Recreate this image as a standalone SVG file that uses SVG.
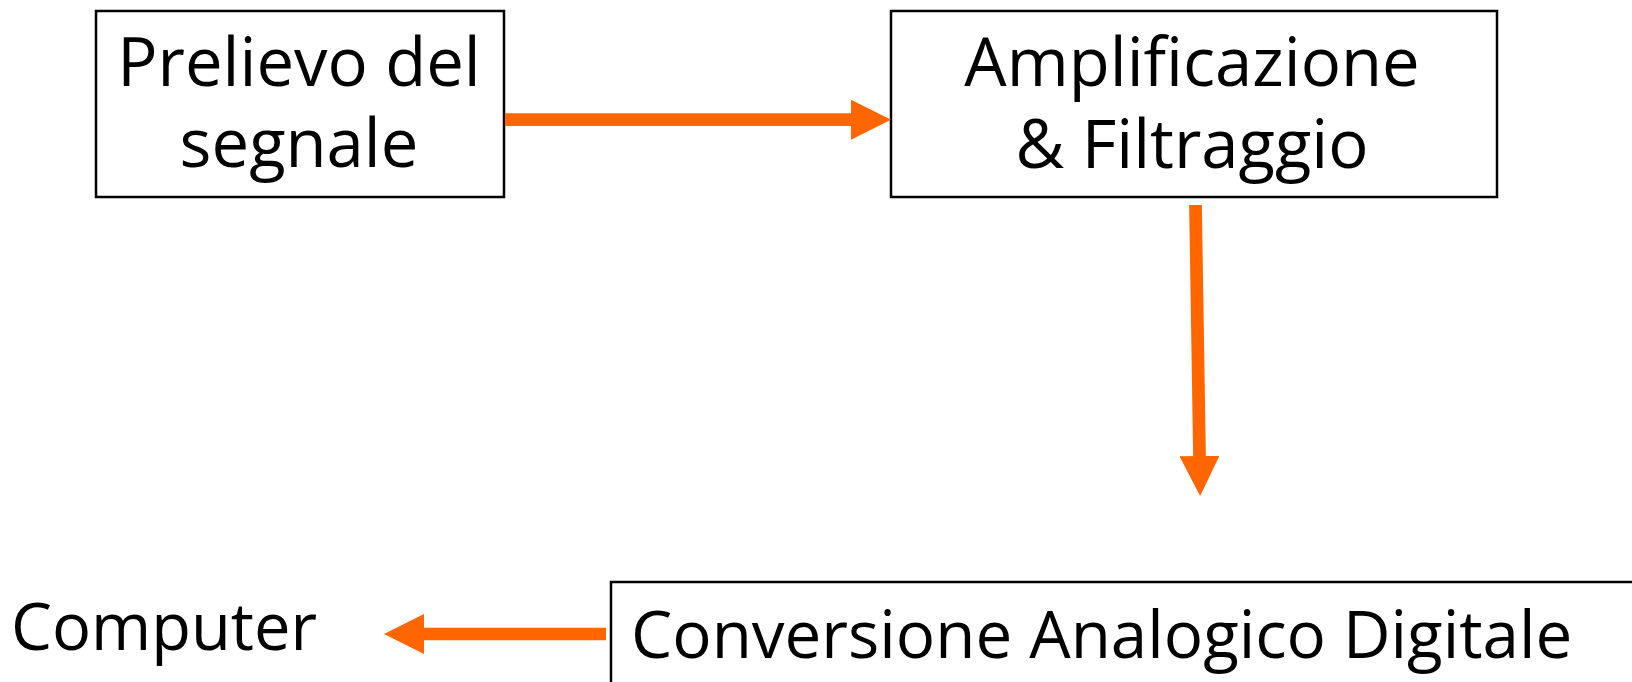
<svg xmlns="http://www.w3.org/2000/svg" width="1632" height="682" viewBox="0 0 1632 682">
  <defs>
    <style>
      .box { fill: #ffffff; stroke: #000000; stroke-width: 2.5; }
      .lbl { font-family: "Open Sans", "Liberation Sans", sans-serif; font-size: 67px; fill: #000000; }
      .mid { text-anchor: middle; }
      .conn { stroke: #FF6600; stroke-width: 12.7; fill: none; marker-end: url(#head); }
    </style>
    <marker id="head" markerUnits="userSpaceOnUse" markerWidth="40" markerHeight="40" viewBox="0 0 39 39" refX="0" refY="19.5" orient="auto">
      <path d="M0,0 L39,19.5 L0,39 Z" fill="#FF6600"/>
    </marker>
  </defs>
  <rect width="1632" height="682" fill="#ffffff"/>
  <g id="node-prelievo">
    <rect class="box" x="96" y="11" width="408" height="186"/>
    <text class="lbl mid" x="299" y="86">Prelievo del</text>
    <text class="lbl mid" x="299" y="167">segnale</text>
  </g>
  <g id="node-amplificazione">
    <rect class="box" x="891" y="11" width="606" height="186"/>
    <text class="lbl mid" x="1192" y="86">Amplificazione</text>
    <text class="lbl mid" x="1192" y="168">&amp; Filtraggio</text>
  </g>
  <g id="node-conversione">
    <rect class="box" x="611" y="582" width="1030" height="120"/>
    <text class="lbl" x="631" y="658" style="font-size:65.5px">Conversione Analogico Digitale</text>
  </g>
  <g id="node-computer">
    <text class="lbl" x="11" y="650" style="font-size:65px">Computer</text>
  </g>
  <g id="connectors">
    <line class="conn" x1="505" y1="119.7" x2="851" y2="119.7"/>
    <line class="conn" x1="1195.5" y1="205" x2="1199.5" y2="456"/>
    <line class="conn" x1="606" y1="634" x2="424" y2="634"/>
  </g>
</svg>
